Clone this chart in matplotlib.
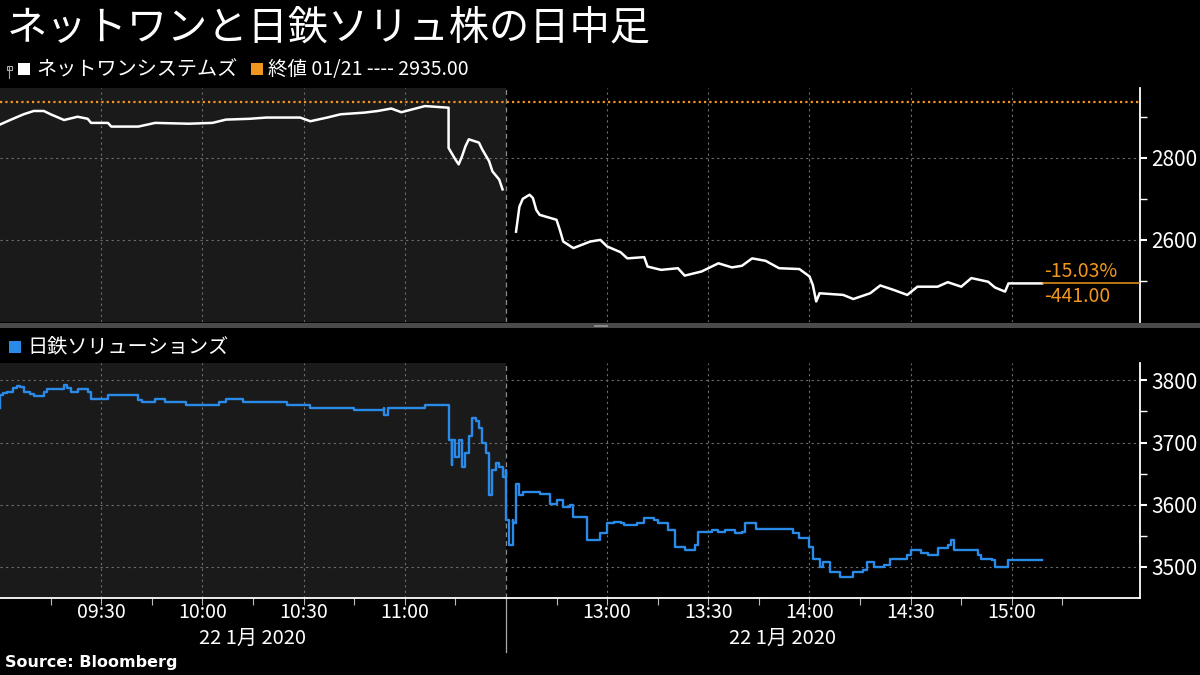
import matplotlib
matplotlib.use("Agg")
import matplotlib.pyplot as plt
from matplotlib.patches import Rectangle
from matplotlib.lines import Line2D

JP = ['Noto Sans CJK JP', 'DejaVu Sans']
plt.rcParams['font.family'] = JP

# ---- text
title = "ネットワンと日鉄ソリュ株の日中足"
name_top = "ネットワンシステムズ"
name_bottom = "日鉄ソリューションズ"
prev_close_label = "終値 01/21 ---- 2935.00"
prev_close = 2935.00
change_pct = "-15.03%"
change_abs = "-441.00"
date_label = "22 1月 2020"
source = "Source: Bloomberg"

# ---- NetOne Systems
netone_am_times = ["09:00", "09:03", "09:07", "09:10", "09:13", "09:15", "09:19", "09:23", "09:26", "09:27",
                   "09:32", "09:33", "09:41", "09:46", "09:56", "10:03", "10:07", "10:14", "10:19", "10:29",
                   "10:32", "10:37", "10:41", "10:48", "10:52", "10:56", "10:59", "11:06", "11:13", "11:13",
                   "11:15", "11:16", "11:17", "11:18", "11:19", "11:22", "11:23", "11:25", "11:26", "11:28",
                   "11:29"]
netone_am_prices = [2881, 2892, 2906, 2914, 2914, 2906, 2892, 2900, 2895, 2885,
                    2885, 2876, 2876, 2885, 2883, 2885, 2893, 2895, 2898, 2898,
                    2889, 2898, 2906, 2910, 2914, 2920, 2911, 2926, 2922, 2824,
                    2796, 2784, 2804, 2828, 2845, 2837, 2820, 2792, 2767, 2747,
                    2723]
netone_pm_times = ["12:33", "12:34", "12:35", "12:37", "12:38", "12:39", "12:40", "12:45", "12:46", "12:47",
                   "12:50", "12:55", "12:58", "13:00", "13:04", "13:06", "13:11", "13:12", "13:16", "13:21",
                   "13:23", "13:28", "13:33", "13:37", "13:40", "13:43", "13:47", "13:51", "13:57", "14:00",
                   "14:01", "14:02", "14:03", "14:10", "14:13", "14:18", "14:21", "14:25", "14:29", "14:32",
                   "14:38", "14:41", "14:45", "14:48", "14:53", "14:55", "14:58", "14:59", "15:09"]
netone_pm_prices = [2620, 2681, 2700, 2710, 2702, 2673, 2661, 2649, 2624, 2596,
                    2580, 2596, 2600, 2584, 2570, 2555, 2558, 2535, 2527, 2531,
                    2513, 2523, 2543, 2533, 2537, 2555, 2549, 2531, 2529, 2511,
                    2490, 2450, 2470, 2466, 2456, 2470, 2489, 2478, 2466, 2486,
                    2486, 2497, 2486, 2507, 2498, 2484, 2474, 2494, 2494]

# ---- NS Solutions
nssol_am_times = ["09:00", "09:00", "09:01", "09:02", "09:04", "09:04", "09:05", "09:06", "09:07", "09:09",
                  "09:10", "09:12", "09:13", "09:14", "09:19", "09:20", "09:21", "09:23", "09:26", "09:27",
                  "09:32", "09:32", "09:40", "09:41", "09:42", "09:44", "09:46", "09:49", "09:51", "09:55",
                  "10:02", "10:05", "10:07", "10:12", "10:20", "10:25", "10:29", "10:32", "10:42", "10:45",
                  "10:51", "10:54", "10:54", "10:55", "11:06", "11:06", "11:13", "11:13", "11:14", "11:14",
                  "11:15", "11:16", "11:17", "11:18", "11:19", "11:20", "11:20", "11:21", "11:22", "11:23",
                  "11:24", "11:25", "11:25", "11:26", "11:27", "11:28", "11:29", "11:30"]
nssol_am_prices = [3755, 3777, 3780, 3781, 3782, 3788, 3791, 3789, 3782, 3778,
                   3775, 3775, 3782, 3786, 3793, 3788, 3782, 3786, 3782, 3770,
                   3770, 3777, 3777, 3769, 3765, 3765, 3770, 3766, 3766, 3761,
                   3761, 3765, 3770, 3766, 3766, 3761, 3761, 3755, 3755, 3752,
                   3752, 3755, 3745, 3755, 3755, 3761, 3761, 3704, 3664, 3704,
                   3677, 3704, 3661, 3683, 3710, 3710, 3739, 3734, 3723, 3699,
                   3683, 3656, 3616, 3656, 3667, 3661, 3645, 3656]
nssol_pm_times = ["12:30", "12:30", "12:31", "12:32", "12:32", "12:33", "12:34", "12:35", "12:40", "12:42",
                  "12:43", "12:45", "12:47", "12:49", "12:50", "12:52", "12:54", "12:54", "12:58", "13:00",
                  "13:02", "13:04", "13:05", "13:09", "13:11", "13:14", "13:15", "13:18", "13:20", "13:20",
                  "13:23", "13:26", "13:27", "13:31", "13:33", "13:35", "13:38", "13:40", "13:41", "13:43",
                  "13:44", "13:51", "13:55", "13:57", "14:00", "14:01", "14:03", "14:04", "14:06", "14:09",
                  "14:13", "14:16", "14:17", "14:19", "14:22", "14:24", "14:29", "14:30", "14:33", "14:35",
                  "14:37", "14:38", "14:41", "14:42", "14:43", "14:47", "14:50", "14:51", "14:54", "14:55",
                  "14:58", "14:59", "15:09"]
nssol_pm_prices = [3640, 3575, 3535, 3575, 3570, 3634, 3616, 3621, 3618, 3618,
                   3602, 3608, 3597, 3599, 3581, 3581, 3548, 3543, 3554, 3570,
                   3573, 3570, 3567, 3570, 3578, 3575, 3570, 3559, 3554, 3532,
                   3527, 3535, 3556, 3559, 3556, 3560, 3554, 3556, 3570, 3570,
                   3561, 3561, 3554, 3546, 3532, 3513, 3500, 3508, 3492, 3484,
                   3492, 3495, 3508, 3500, 3503, 3512, 3519, 3527, 3523, 3519,
                   3519, 3530, 3535, 3543, 3527, 3527, 3519, 3513, 3511, 3500,
                   3500, 3511, 3511]

tick_labels = ["09:30", "10:00", "10:30", "11:00", "13:00", "13:30", "14:00", "14:30", "15:00"]
minor_labels = ["09:15", "09:45", "10:15", "10:45", "11:15", "12:45", "13:15", "13:45", "14:15", "14:45", "15:15"]


def pos(t):
    # trading minutes, lunch break squeezed out
    h, m = t.split(":")
    mins = int(h) * 60 + int(m)
    if mins <= 11 * 60 + 30:
        return mins - 9 * 60
    return mins - (12 * 60 + 30) + 150


BG = "black"
SHADE = "#1a1a1a"
GRID = "#6e6e6e"
WHITE = "#ffffff"
BLUE = "#2a8ae8"
ORANGE = "#f0961e"
LUNCH = pos("11:30")
XMAX = 338

fig = plt.figure(figsize=(12, 6.75), dpi=100, facecolor=BG)
W, H = 1200.0, 675.0


def box(x0, y0, x1, y1):
    return [x0 / W, 1 - y1 / H, (x1 - x0) / W, (y1 - y0) / H]


ax1 = fig.add_axes(box(0, 88, 1140, 322))
ax2 = fig.add_axes(box(0, 363, 1140, 598))

for ax in (ax1, ax2):
    ax.set_facecolor(BG)
    ax.axvspan(0, LUNCH, color=SHADE, zorder=0, lw=0)
    ax.axvline(LUNCH, color="#8a8a8a", ls=(0, (4, 3)), lw=0.9, zorder=1)
    ax.set_xlim(0, XMAX)
    ax.set_xticks([pos(t) for t in tick_labels])
    ax.set_xticks([pos(t) for t in minor_labels], minor=True)
    ax.grid(True, which="major", color=GRID, ls=(0, (2, 3)), lw=0.8)
    ax.yaxis.tick_right()
    for s in ("top", "left"):
        ax.spines[s].set_visible(False)
    ax.spines["right"].set_color(WHITE)
    ax.spines["right"].set_linewidth(1.3)
    ax.tick_params(axis="y", which="major", colors=WHITE, labelsize=15, length=5, width=1.5, pad=3)
    ax.tick_params(axis="y", which="minor", colors=WHITE, length=5, width=1)
    ax.set_axisbelow(True)

# top panel
ax1.set_ylim(2400, 2970)
ax1.set_yticks([2600, 2800])
ax1.set_yticks([2500, 2700, 2900], minor=True)
ax1.spines["bottom"].set_visible(False)
ax1.tick_params(axis="x", which="both", length=0, labelbottom=False)
ax1.axhline(prev_close, color=ORANGE, ls=(0, (1, 1.4)), lw=1.6, zorder=2)
ax1.plot([pos(t) for t in netone_am_times], netone_am_prices, color=WHITE, lw=1.8, zorder=3)
ax1.plot([pos(t) for t in netone_pm_times], netone_pm_prices, color=WHITE, lw=1.8, zorder=3)
last_x = pos(netone_pm_times[-1])
last_y = netone_pm_prices[-1]
ax1.hlines(last_y, last_x, XMAX, color=ORANGE, lw=1.1, zorder=3)
ax1.text(last_x + 0.5, last_y + 4, change_pct, color=ORANGE, fontsize=14, ha="left", va="bottom")
ax1.text(last_x + 0.5, last_y - 6, change_abs, color=ORANGE, fontsize=14, ha="left", va="top")

# bottom panel
ax2.set_ylim(3450, 3828)
ax2.set_yticks([3500, 3600, 3700, 3800])
ax2.set_yticks([3550, 3650, 3750], minor=True)
ax2.plot([pos(t) for t in nssol_am_times + nssol_pm_times], nssol_am_prices + nssol_pm_prices,
         color=BLUE, lw=1.7, drawstyle="steps-post", zorder=3)
ax2.spines["bottom"].set_color(WHITE)
ax2.spines["bottom"].set_linewidth(1.3)
ax2.set_xticklabels(tick_labels)
ax2.tick_params(axis="x", which="both", colors="#bbbbbb", length=5, width=0.8, pad=-2,
                labelsize=14, labelcolor=WHITE)
ax2.axvline(LUNCH, ymin=-0.23, ymax=0, color="#aaaaaa", lw=0.9, clip_on=False)
ax2.text(75, -0.172, date_label, transform=ax2.get_xaxis_transform(), color=WHITE,
         fontsize=14.5, ha="center", va="center")
ax2.text(232, -0.172, date_label, transform=ax2.get_xaxis_transform(), color=WHITE,
         fontsize=14.5, ha="center", va="center")

# separator between panels
fig.patches.append(Rectangle((0, 1 - 328 / H), 1, 5 / H, transform=fig.transFigure,
                             color="#4a4a4a", lw=0))
fig.patches.append(Rectangle((594 / W, 1 - 327 / H), 14 / W, 2 / H, transform=fig.transFigure,
                             color="#8a8a8a", lw=0))

# title + legends
fig.text(7 / W, 1 - 28 / H, title, color=WHITE, fontsize=29, ha="left", va="center")

fig.lines.append(Line2D([9 / W, 9 / W], [1 - 66 / H, 1 - 78 / H], transform=fig.transFigure,
                        color="#aaaaaa", lw=0.8))
fig.patches.append(Rectangle((7 / W, 1 - 70 / H), 5 / W, 4 / H, transform=fig.transFigure,
                             fill=False, ec="#aaaaaa", lw=0.8))
fig.patches.append(Rectangle((18 / W, 1 - 75 / H), 12 / W, 12 / H, transform=fig.transFigure,
                             color=WHITE, lw=0))
fig.text(36 / W, 1 - 70 / H, name_top, color=WHITE, fontsize=14.5, ha="left", va="center")
fig.patches.append(Rectangle((251 / W, 1 - 75 / H), 12 / W, 12 / H, transform=fig.transFigure,
                             color=ORANGE, lw=0))
fig.text(268 / W, 1 - 70 / H, prev_close_label, color=WHITE, fontsize=14, ha="left", va="center")

fig.patches.append(Rectangle((9 / W, 1 - 353 / H), 12 / W, 12 / H, transform=fig.transFigure,
                             color=BLUE, lw=0))
fig.text(27 / W, 1 - 347 / H, name_bottom, color=WHITE, fontsize=14.5, ha="left", va="center")

fig.text(5 / W, 1 - 663 / H, source, color=WHITE, fontsize=11.5, fontweight="bold",
         family="DejaVu Sans", ha="left", va="center")

fig.savefig("out.png", dpi=100, facecolor=BG)
